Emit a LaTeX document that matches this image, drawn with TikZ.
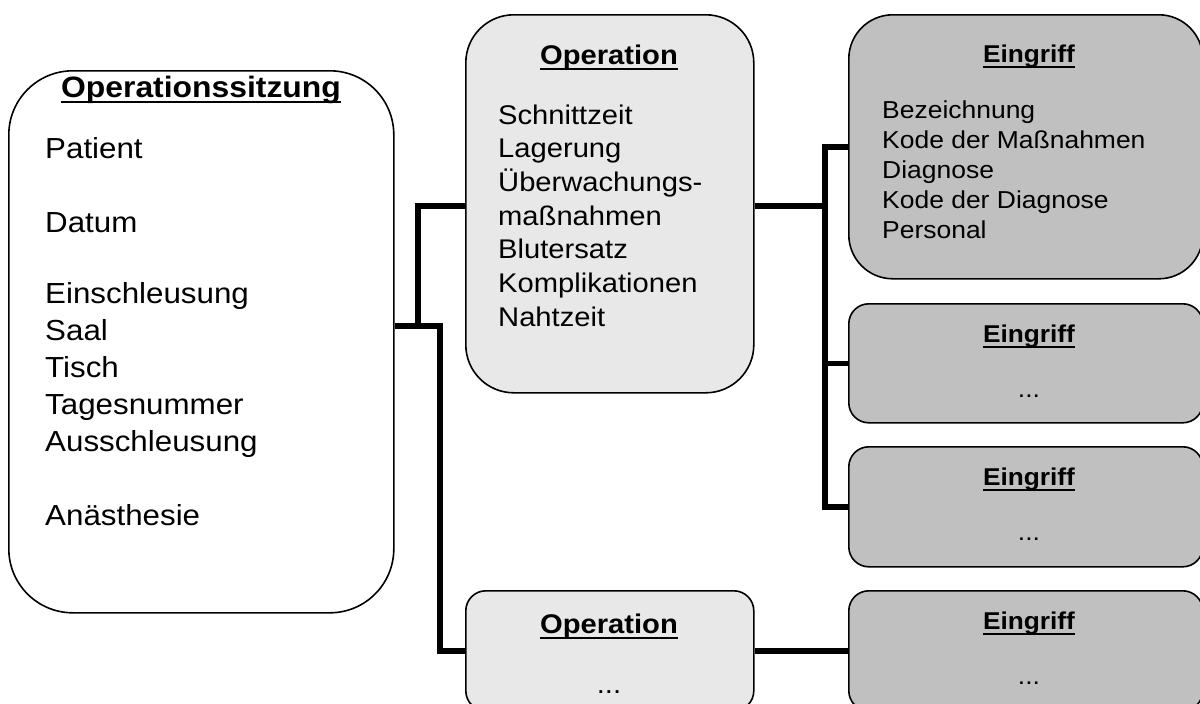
\documentclass[tikz,border=0pt]{standalone}
\usepackage{fontspec}
\setmainfont{Liberation Sans}[FakeStretch=1.08]
\definecolor{opgray}{HTML}{E8E8E8}
\definecolor{eggray}{HTML}{C0C0C0}
\newsavebox\hbx
\newcommand\uhead[1]{\sbox\hbx{\bfseries #1}\rlap{\rule[-6pt]{\wd\hbx}{2.5pt}}\usebox\hbx}
\newcommand\fLSH{\fontsize{29.5}{37}\selectfont}
\newcommand\fLS{\fontsize{29}{37}\selectfont}
\newcommand\fOP{\fontsize{27}{33.7}\selectfont}
\newcommand\fEGH{\fontsize{24.3}{30.2}\selectfont}
\newcommand\fEG{\fontsize{24.5}{30.2}\selectfont}
\begin{document}
\begin{tikzpicture}[x=1pt,y=-1pt,
  box/.style={draw=black,line width=1.6pt,inner sep=0pt,anchor=north west},
  opbox/.style={box,fill=opgray},
  egbox/.style={box,fill=eggray},
  conn/.style={line width=5.5pt},
  txt/.style={inner sep=0pt},
  body/.style={txt,anchor=base west}]
\useasboundingbox (0,0) rectangle (1200,704);
\clip (0,0) rectangle (1200,704);
% boxes
\node[box,minimum width=385pt,minimum height=542pt,rounded corners=64pt] (ls) at (8,70) {};
\node[opbox,minimum width=288pt,minimum height=378pt,rounded corners=48pt] (op1) at (465,14) {};
\node[opbox,minimum width=288pt,minimum height=120pt,rounded corners=20pt] (op2) at (465,590) {};
\node[egbox,minimum width=354pt,minimum height=264pt,rounded corners=44pt] (e1) at (848,14) {};
\node[egbox,minimum width=354pt,minimum height=119pt,rounded corners=20pt] (e2) at (848,303) {};
\node[egbox,minimum width=354pt,minimum height=120pt,rounded corners=20pt] (e3) at (848,446) {};
\node[egbox,minimum width=354pt,minimum height=120pt,rounded corners=20pt] (e4) at (848,590) {};
% connectors
\coordinate (a1) at (440,326);
\coordinate (a2) at (418,328);
\coordinate (a3) at (418,206);
\coordinate (b1) at (825,206);
\draw[conn] (ls.east |- a1) -- (a1) |- (op2.west);
\draw[conn] (a2) -- (a3) -- (op1.west |- a3);
\draw[conn] (op1.east |- b1) -- (b1);
\draw[conn] (e1.west) -| (b1);
\draw[conn] (e3.west) -| (b1);
\draw[conn] (e2.west) -- (e2.west -| b1);
\draw[conn] (op2.east) -- (e4.west);
% texts
\node[txt,anchor=base,font=\fLSH] (lsh) at (201,97) {\uhead{Operationssitzung}};
\node[body,font=\fLS] (lsb) at (45,158) {\begin{tabular}[t]{@{}l@{}}Patient\\[37pt]Datum\\[34pt]Einschleusung\\Saal\\Tisch\\Tagesnummer\\Ausschleusung\\[37pt]Anästhesie\end{tabular}};
\node[txt,anchor=base,font=\fOP] (op1h) at (609,64) {\uhead{Operation}};
\node[body,font=\fOP] (op1b) at (498,124) {\begin{tabular}[t]{@{}l@{}}Schnittzeit\\Lagerung\\Überwachungs-\\maßnahmen\\Blutersatz\\Komplikationen\\Nahtzeit\end{tabular}};
\node[txt,anchor=base,font=\fOP] (op2h) at (609,633) {\uhead{Operation}};
\node[txt,anchor=base,font=\fOP] (op2d) at (609,693) {...};
\node[txt,anchor=base,font=\fEGH] (e1h) at (1029,62) {\uhead{Eingriff}};
\node[body,font=\fEG] (e1b) at (882,118) {\begin{tabular}[t]{@{}l@{}}Bezeichnung\\Kode der Maßnahmen\\Diagnose\\Kode der Diagnose\\Personal\end{tabular}};
\node[txt,anchor=base,font=\fEGH] (e2h) at (1029,342) {\uhead{Eingriff}};
\node[txt,anchor=base,font=\fEG] (e2d) at (1029,397) {...};
\node[txt,anchor=base,font=\fEGH] (e3h) at (1029,485) {\uhead{Eingriff}};
\node[txt,anchor=base,font=\fEG] (e3d) at (1029,540) {...};
\node[txt,anchor=base,font=\fEGH] (e4h) at (1029,629) {\uhead{Eingriff}};
\node[txt,anchor=base,font=\fEG] (e4d) at (1029,684) {...};
\end{tikzpicture}
\end{document}
